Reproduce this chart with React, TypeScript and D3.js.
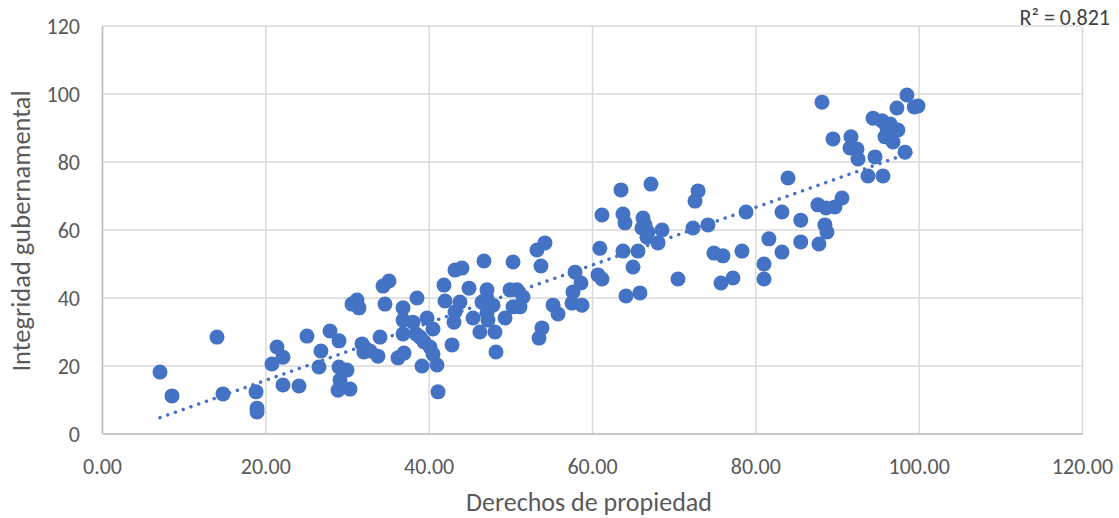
import React from "react";
import * as d3 from "d3";

const propertyRights: number[] = [
  7.04, 8.51, 14.02, 14.75, 18.8, 18.92, 18.92, 20.75, 21.37, 22.1, 22.1, 24.06, 25.04, 26.75, 26.51,
  27.86, 28.96, 28.96, 29.94, 29.08, 28.84, 30.31, 30.55, 31.16, 31.41, 31.78, 32.0, 32.76, 33.73, 33.98,
  34.35, 35.08, 34.59, 36.18, 36.92, 36.8, 38.51, 36.8, 38.02, 39.74, 40.47, 36.8, 38.39, 38.88, 39.37,
  40.1, 40.47, 39.12, 40.96, 41.08, 41.81, 41.94, 43.16, 44.02, 44.88, 46.71, 43.16, 43.77, 43.04, 42.8,
  45.37, 46.21, 47.07, 46.47, 47.08, 47.08, 47.82, 47.2, 49.29, 48.06, 48.18, 49.9, 50.76, 51.49, 50.27,
  51.12, 50.27, 53.2, 54.18, 53.69, 55.17, 55.78, 53.81, 53.45, 57.86, 58.59, 57.61, 57.49, 58.71, 60.9,
  60.67, 61.16, 61.16, 63.49, 67.16, 63.73, 63.98, 66.18, 66.43, 66.06, 66.79, 68.51, 66.67, 68.02, 63.73,
  65.57, 64.96, 64.1, 65.81, 70.47, 72.93, 72.55, 72.3, 74.14, 74.87, 75.97, 78.3, 75.73, 77.2, 78.8,
  83.94, 81.0, 81.0, 81.6, 83.2, 83.2, 85.5, 85.5, 87.73, 88.46, 88.71, 87.6, 88.6, 89.69, 90.55,
  88.1, 89.45, 91.65, 91.53, 92.39, 92.51, 93.73, 95.57, 94.59, 98.5, 99.85, 99.4, 97.28, 94.35, 95.45,
  96.06, 95.82, 97.4, 96.8, 98.27, 96.43,
];

const govIntegrity: number[] = [
  18.2, 11.2, 28.5, 11.8, 12.4, 7.6, 6.5, 20.6, 25.6, 22.6, 14.4, 14.1, 28.8, 24.4, 19.7,
  30.3, 27.4, 19.7, 18.8, 15.9, 12.9, 13.2, 38.2, 39.4, 37.1, 26.5, 24.1, 24.4, 22.9, 28.5,
  43.5, 45.0, 38.2, 22.4, 23.8, 37.1, 40.0, 33.5, 32.9, 34.1, 30.9, 29.4, 29.4, 28.5, 27.1,
  25.6, 23.5, 20.0, 20.3, 12.4, 43.8, 39.1, 48.2, 48.8, 42.9, 50.9, 35.9, 38.8, 32.9, 26.2,
  34.1, 30.0, 35.6, 38.8, 42.4, 40.0, 37.9, 33.5, 34.1, 30.0, 24.1, 42.4, 42.4, 40.3, 37.4,
  37.4, 50.6, 54.1, 56.2, 49.4, 37.9, 35.3, 31.2, 28.2, 47.6, 44.4, 41.8, 38.5, 37.9, 54.6,
  46.8, 45.6, 64.4, 71.8, 73.5, 64.7, 62.1, 63.5, 61.5, 60.6, 59.4, 60.0, 57.9, 56.2, 53.8,
  53.8, 49.1, 40.6, 41.5, 45.6, 71.5, 68.5, 60.6, 61.5, 53.2, 52.4, 53.8, 44.4, 45.9, 65.3,
  75.3, 50.0, 45.6, 57.4, 65.3, 53.5, 62.9, 56.5, 55.9, 61.5, 59.4, 67.4, 66.5, 66.8, 69.4,
  97.6, 86.8, 87.4, 84.1, 83.8, 80.9, 75.9, 75.9, 81.5, 99.7, 96.5, 96.2, 95.9, 92.9, 92.1,
  90.0, 87.4, 89.4, 85.9, 82.9, 91.2,
];

const xTicks: number[] = [0, 20, 40, 60, 80, 100, 120];
const yTicks: number[] = [0, 20, 40, 60, 80, 100, 120];
const xTitle = "Derechos de propiedad";
const yTitle = "Integridad gubernamental";
const r2Label = "R² = 0.821";

export default function App() {
  const W = 1119;
  const H = 518;
  const left = 102.5;
  const right = 1082.5;
  const top = 26;
  const bottom = 434;

  const x = d3.scaleLinear().domain([0, 120]).range([left, right]);
  const y = d3.scaleLinear().domain([0, 120]).range([bottom, top]);

  const pts = propertyRights.map((v, i) => ({ x: v, y: govIntegrity[i] }));
  const mx = d3.mean(pts, (d) => d.x) as number;
  const my = d3.mean(pts, (d) => d.y) as number;
  let sxy = 0;
  let sxx = 0;
  pts.forEach((d) => {
    sxy += (d.x - mx) * (d.y - my);
    sxx += (d.x - mx) * (d.x - mx);
  });
  const slope = sxy / sxx;
  const intercept = my - slope * mx;
  const [xmin, xmax] = d3.extent(pts, (d) => d.x) as [number, number];
  const line = d3
    .line<number>()
    .x((d) => x(d))
    .y((d) => y(intercept + slope * d));

  const font = "Calibri, Carlito, Lato, 'Open Sans', sans-serif";
  const textColor = "#595959";

  return (
    <svg
      width={W}
      height={H}
      style={{ position: "absolute", left: 0, top: 0, background: "#fff" }}
      fontFamily={font}
    >
      {xTicks.map((t) => (
        <line key={"gx" + t} x1={x(t)} x2={x(t)} y1={top} y2={bottom} stroke="#d9d9d9" strokeWidth={1.5} />
      ))}
      {yTicks.map((t) => (
        <line key={"gy" + t} x1={left} x2={right} y1={y(t)} y2={y(t)} stroke="#d9d9d9" strokeWidth={1.5} />
      ))}
      <line x1={left} x2={right} y1={bottom} y2={bottom} stroke="#bfbfbf" strokeWidth={1.5} />
      <line x1={left} x2={left} y1={top} y2={bottom} stroke="#bfbfbf" strokeWidth={1.5} />

      {yTicks.map((t) => (
        <text key={"ty" + t} x={80} y={y(t)} dy="0.35em" textAnchor="end" fontSize={22} fill={textColor}>
          {t}
        </text>
      ))}
      {xTicks.map((t) => (
        <text key={"tx" + t} x={x(t)} y={466} dy="0.35em" textAnchor="middle" fontSize={22} fill={textColor}>
          {t.toFixed(2)}
        </text>
      ))}

      <text x={589} y={502} dy="0.35em" textAnchor="middle" fontSize={26} fill={textColor}>
        {xTitle}
      </text>
      <text
        transform={`translate(21,231) rotate(-90)`}
        dy="0.35em"
        textAnchor="middle"
        fontSize={26.5}
        fill={textColor}
      >
        {yTitle}
      </text>

      {pts.map((d, i) => (
        <circle key={i} cx={x(d.x)} cy={y(d.y)} r={7.5} fill="#4472C4" />
      ))}

      <path
        d={line([xmin, xmax]) || ""}
        fill="none"
        stroke="#4472C4"
        strokeWidth={3.5}
        strokeLinecap="round"
        strokeDasharray="0.01 8.2"
      />

      <text x={1110} y={17} dy="0.35em" textAnchor="end" fontSize={22} fill="#404040">
        {r2Label}
      </text>
    </svg>
  );
}
